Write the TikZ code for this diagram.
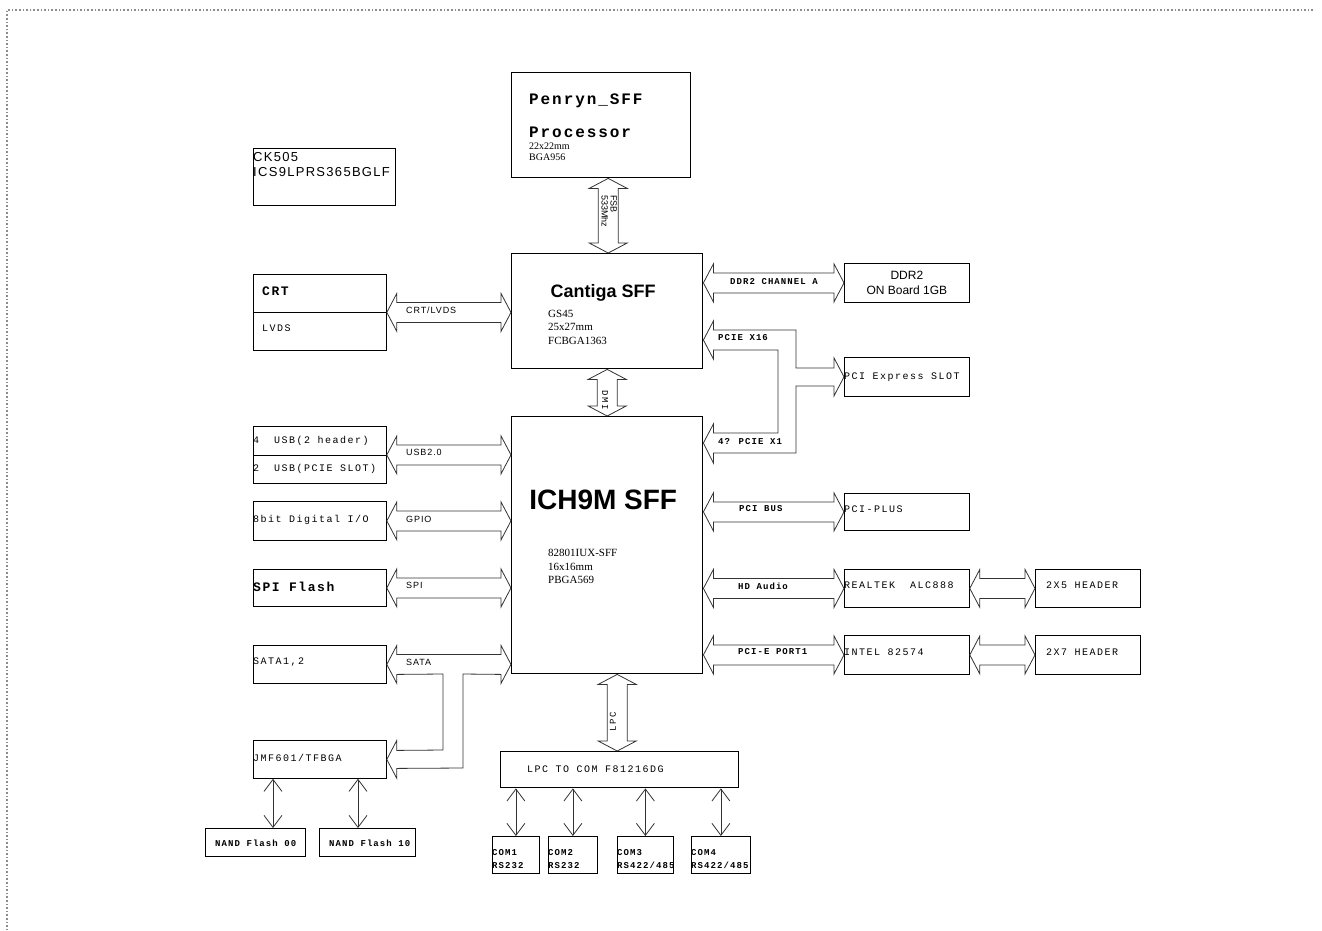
\documentclass[tikz,border=0pt]{standalone}
\usepackage{fontspec}
\setmainfont{Liberation Serif}
\newfontfamily\arialfont{Liberation Sans}
\newfontfamily\arialwide[LetterSpace=10]{Liberation Sans}
\newfontfamily\courfont[LetterSpace=15]{Liberation Mono}
\newfontfamily\courbold[LetterSpace=12]{Liberation Mono}
\usetikzlibrary{
  arrows.meta,
  calc,
  positioning,
}
\tikzset{
  >={Straight Barb[length=12pt,width=18pt]},
  x=1pt, y=-1pt,
}
% fat two-headed bus, left tip #1 to right tip #2
\newcommand{\hbus}[2]{%
  \draw[bus] (#1) -- ($(#1)+(10,-19)$) -- ($(#1)+(10,-10)$) -- ($(#2)+(-10,-10)$)
    -- ($(#2)+(-10,-19)$) -- (#2) -- ($(#2)+(-10,19)$) -- ($(#2)+(-10,10)$)
    -- ($(#1)+(10,10)$) -- ($(#1)+(10,19)$) -- cycle;}
% fat two-headed bus, top tip #1 to bottom tip #2
\newcommand{\vbus}[2]{%
  \draw[bus] (#1) -- ($(#1)+(-19,10)$) -- ($(#1)+(-10,10)$) -- ($(#2)+(-10,-10)$)
    -- ($(#2)+(-19,-10)$) -- (#2) -- ($(#2)+(19,-10)$) -- ($(#2)+(10,-10)$)
    -- ($(#1)+(10,10)$) -- ($(#1)+(19,10)$) -- cycle;}

\begin{document}
\begin{tikzpicture}[
    chip/.style={draw, line width=1.4pt, anchor=north west, inner sep=0pt},
    blk/.style={draw, line width=0.8pt, anchor=north west, inner sep=0pt},
    bus/.style={draw=black!80, line width=0.8pt, line join=miter},
    link/.style={<->, draw=black!80, line width=0.8pt},
    txt/.style={inner sep=0pt, anchor=west},
    plaintxt/.style={txt, font=\courfont\fontsize{10}{12}\selectfont},
    boldtxt/.style={txt, font=\courbold\bfseries\fontsize{9}{13}\selectfont, align=left},
    bigtxt/.style={txt, font=\courbold\bfseries\fontsize{13}{15}\selectfont},
    sanstxt/.style={txt, font=\arialwide\fontsize{9}{10}\selectfont},
    pkgtxt/.style={inner sep=0pt, anchor=north west, align=left,
                   font=\fontsize{11}{13.5}\selectfont},
  ]
  \useasboundingbox (0,0) rectangle (1322,930);
  \draw[black!45, dotted, line width=1.6pt] (1313,10) -- (7,10) -- (7,930);

  % chips
  \node[chip, minimum width=179pt, minimum height=105pt] (cpu) at (511,72) {};
  \node[chip, minimum width=191pt, minimum height=115pt] (gmch) at (511,253) {};
  \node[chip, minimum width=191pt, minimum height=257pt] (ich) at (511,416) {};
  \node[chip, minimum width=238pt, minimum height=36pt] (lpcio) at (500,751) {};
  \node[chip, minimum width=142pt, minimum height=57pt] (clk) at (253,148) {};

  \node[bigtxt, font=\courbold\bfseries\fontsize{16}{18}\selectfont]
    at ($(cpu.north west)+(18,29)$) {Penryn\_SFF};
  \node[bigtxt, font=\courbold\bfseries\fontsize{16}{18}\selectfont]
    at ($(cpu.north west)+(18,60)$) {Processor};
  \node[pkgtxt, font=\fontsize{10}{11}\selectfont] at ($(cpu.north west)+(18,71)$)
    {22x22mm\\BGA956};
  \node[font=\arialfont\bfseries\fontsize{18}{20}\selectfont] at ($(gmch.north)+(-4,40)$)
    {Cantiga SFF};
  \node[pkgtxt] at ($(gmch.north west)+(37,57)$) {GS45\\25x27mm\\FCBGA1363};
  \node[font=\arialfont\bfseries\fontsize{28}{30}\selectfont] at ($(ich.north)+(-4,84)$)
    {ICH9M SFF};
  \node[pkgtxt] at ($(ich.north west)+(37,133)$) {82801IUX-SFF\\16x16mm\\PBGA569};
  \node[plaintxt] at ($(lpcio.west)+(27,-1)$) {LPC TO COM F81216DG};
  \node[txt, font=\arialwide\fontsize{13}{15}\selectfont] at (253,157) {CK505};
  \node[txt, font=\arialwide\fontsize{13}{15}\selectfont] at (253,172) {ICS9LPRS365BGLF};

  % left side
  \node[blk, minimum width=133pt, minimum height=76pt] (disp) at (253,274) {};
  \draw[line width=0.8pt] (disp.west) -- (disp.east);
  \node[bigtxt] at (262,291) {CRT};
  \node[plaintxt] at (262,328) {LVDS};
  \node[blk, minimum width=133pt, minimum height=57pt] (usb) at (253,426) {};
  \draw[line width=0.8pt] (usb.west) -- (usb.east);
  \node[plaintxt] at (253,441) {4\ \ USB(2 header)};
  \node[plaintxt] at (253,469) {2\ \ USB(PCIE SLOT)};
  \node[blk, minimum width=133pt, minimum height=39pt] (gpio) at (253,501) {};
  \node[plaintxt] at (253,520) {8bit Digital I/O};
  \node[blk, minimum width=133pt, minimum height=37pt] (spi) at (253,569) {};
  \node[bigtxt] at (253,587) {SPI Flash};
  \node[blk, minimum width=133pt, minimum height=38pt] (sata) at (253,645) {};
  \node[plaintxt] at (253,662) {SATA1,2};
  \node[blk, minimum width=133pt, minimum height=38pt] (jmf) at (253,740) {};
  \node[plaintxt] at (253,758) {JMF601/TFBGA};
  \node[blk, minimum width=100pt, minimum height=28pt] (nand0) at (205,828) {};
  \node[boldtxt] at (215,843) {NAND Flash 00};
  \node[blk, minimum width=96pt, minimum height=28pt] (nand1) at (319,828) {};
  \node[boldtxt] at (329,843) {NAND Flash 10};

  % serial ports
  \node[blk, minimum width=47pt, minimum height=37pt] (com1) at (492,836) {};
  \node[blk, minimum width=49pt, minimum height=37pt] (com2) at (548,836) {};
  \node[blk, minimum width=56pt, minimum height=37pt] (com3) at (617,836) {};
  \node[blk, minimum width=59pt, minimum height=37pt] (com4) at (691,836) {};
  \node[boldtxt] at ($(com1.west)+(0,4)$) {COM1\\RS232};
  \node[boldtxt] at ($(com2.west)+(0,4)$) {COM2\\RS232};
  \node[boldtxt] at ($(com3.west)+(0,4)$) {COM3\\RS422/485};
  \node[boldtxt] at ($(com4.west)+(0,4)$) {COM4\\RS422/485};

  % right side
  \node[blk, minimum width=125pt, minimum height=39pt] (ddr) at (844,263) {};
  \node[font=\arialfont\fontsize{12}{15}\selectfont, align=center] at (ddr.center)
    {DDR2\\ON Board 1GB};
  \node[blk, minimum width=125pt, minimum height=39pt] (slot) at (844,357) {};
  \node[plaintxt] at (slot.west) {PCI Express SLOT};
  \node[blk, minimum width=125pt, minimum height=37pt] (pciplus) at (844,493) {};
  \node[plaintxt] at ($(pciplus.west)+(0,-3)$) {PCI-PLUS};
  \node[blk, minimum width=125pt, minimum height=38pt] (codec) at (844,569) {};
  \node[plaintxt] at ($(codec.west)+(0,-3)$) {REALTEK\ \ ALC888};
  \node[blk, minimum width=125pt, minimum height=39pt] (lan) at (844,635) {};
  \node[plaintxt] at ($(lan.west)+(0,-3)$) {INTEL 82574};
  \node[blk, minimum width=105pt, minimum height=38pt] (hdr5) at (1035,569) {};
  \node[plaintxt] at ($(hdr5.west)+(11,-3)$) {2X5 HEADER};
  \node[blk, minimum width=105pt, minimum height=39pt] (hdr7) at (1035,635) {};
  \node[plaintxt] at ($(hdr7.west)+(11,-3)$) {2X7 HEADER};

  % vertical buses
  \coordinate (fsbtop) at ($(cpu.south)+(7,0)$);
  \vbus{fsbtop}{fsbtop |- gmch.north}
  \node[sanstxt, rotate=-90, anchor=north west, align=left, font=\arialfont\fontsize{9}{9}\selectfont]
    at (617,195) {FSB\\533Mhz};
  \vbus{gmch.south}{ich.north}
  \node[sanstxt, rotate=-90, anchor=center, font=\courfont\fontsize{9}{10}\selectfont]
    at (605,400) {DMI};
  \coordinate (lpctop) at ($(ich.south)+(10,0)$);
  \vbus{lpctop}{lpctop |- lpcio.north}
  \node[sanstxt, rotate=90, anchor=center, font=\courfont\fontsize{9}{10}\selectfont]
    at (613,722) {LPC};

  % left buses
  \hbus{disp.east}{disp.east -| gmch.west}
  \hbus{usb.east}{usb.east -| ich.west}
  \hbus{gpio.east}{gpio.east -| ich.west}
  \hbus{spi.east}{spi.east -| ich.west}
  \node[sanstxt] at (406,310) {CRT/LVDS};
  \node[sanstxt] at (406,452) {USB2.0};
  \node[sanstxt] at (406,519) {GPIO};
  \node[sanstxt] at (406,585) {SPI};

  % SATA shared with JMF601
  \coordinate (satatip) at (sata.east -| ich.west);
  \draw[bus] (sata.east) -- ++(10,-19) -- ++(0,9) -- ($(satatip)+(-10,-10)$) -- ++(0,-9)
    -- (satatip) -- ++(-10,19) -- ++(0,-9) -- (463,674) -- (463,768)
    -- ($(jmf.east)+(10,9)$) -- ++(0,10) -- (jmf.east) -- ++(10,-19) -- ++(0,10)
    -- (443,750) -- (443,674) -- ($(sata.east)+(10,10)$) -- ++(0,9) -- cycle;
  \node[sanstxt] at (406,662) {SATA};

  % right buses
  \hbus{gmch.east |- ddr.west}{ddr.west}
  \hbus{ich.east |- pciplus.west}{pciplus.west}
  \hbus{ich.east |- codec.west}{codec.west}
  \hbus{ich.east |- lan.west}{lan.west}
  \hbus{codec.east}{hdr5.west}
  \hbus{lan.east}{hdr7.west}
  \node[boldtxt] at (730,282) {DDR2 CHANNEL A};
  \node[boldtxt] at (739,509) {PCI BUS};
  \node[boldtxt] at (738,586) {HD Audio};
  \node[boldtxt] at (738,652) {PCI-E PORT1};

  % PCIe lanes merged into the slot
  \coordinate (x16) at (gmch.east |- 0,340);
  \coordinate (x1) at (ich.east |- 0,443);
  \draw[bus] (x16) -- ++(10,-19) -- ++(0,9) -- (796,330) -- ($(slot.west)+(-48,-9)$)
    -- ($(slot.west)+(-10,-9)$) -- ++(0,-10) -- (slot.west) -- ++(-10,19) -- ++(0,-10)
    -- ($(slot.west)+(-48,9)$) -- (796,453) -- ($(x1)+(10,10)$) -- ++(0,10) -- (x1)
    -- ++(10,-19) -- ++(0,9) -- (778,433) -- (778,350) -- ($(x16)+(10,10)$) -- ++(0,9) -- cycle;
  \node[boldtxt] at (718,338) {PCIE X16};
  \node[boldtxt] at (718,442) {4? PCIE X1};

  % thin links
  \draw[link] (273,0 |- jmf.south) -- (273,0 |- nand0.north);
  \draw[link] (358,0 |- jmf.south) -- (358,0 |- nand1.north);
  \foreach \port in {com1, com2, com3, com4}
    \draw[link] (\port.north |- lpcio.south) -- (\port.north);
\end{tikzpicture}
\end{document}
